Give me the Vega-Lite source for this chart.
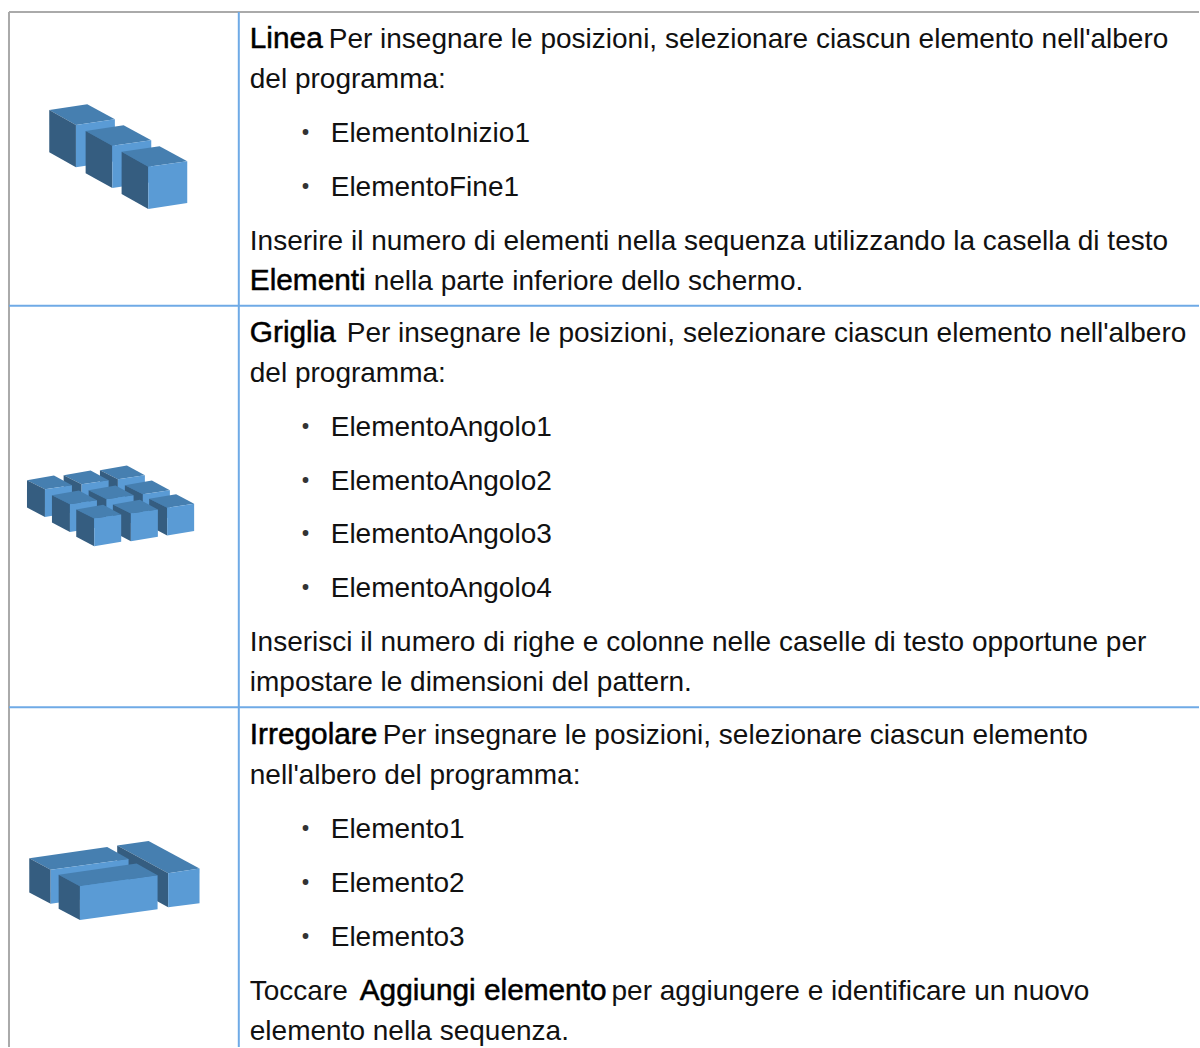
{"$schema":"https://vega.github.io/schema/vega-lite/v6.json","autosize":{"type":"fit","contains":"padding"},"width":1200,"height":1048,"padding":0,"background":"#ffffff","view":{"stroke":null},
"encoding":{"x":{"field":"x","type":"quantitative","axis":null,"scale":{"domain":[0,1200],"nice":false,"zero":false}},"y":{"field":"y","type":"quantitative","axis":null,"scale":{"domain":[1048,0],"nice":false,"zero":false}}},
"layer":[
{"data":{"values":[
{"k":"grey","x":9,"y":12,"x2":1200,"y2":12},{"k":"grey","x":9,"y":12,"x2":9,"y2":1048},{"k":"blue","x":239,"y":12,"x2":239,"y2":1048},{"k":"blue","x":9,"y":306,"x2":1200,"y2":306},{"k":"blue","x":9,"y":708,"x2":1200,"y2":708}]},
"mark":{"type":"rule","strokeWidth":2},"encoding":{"x2":{"field":"x2"},"y2":{"field":"y2"},"stroke":{"field":"k","type":"nominal","legend":null,"scale":{"domain":["grey","blue"],"range":["#aaaaaa","#6faae6"]}}}},
{"data":{"values":[
{"p":"a1t","f":"t","x":[49.3,87.3,115,76],"y":[110,104.3,119.3,125]},{"p":"a1l","f":"l","x":[49.3,76,76,49.3],"y":[110,125,167.3,152.3]},{"p":"a1f","f":"f","x":[76,115,115,76],"y":[125,119.3,161.3,167.3]},
{"p":"a2t","f":"t","x":[85.7,123.7,151.4,112.4],"y":[131,125.3,140.3,146]},{"p":"a2l","f":"l","x":[85.7,112.4,112.4,85.7],"y":[131,146,188.3,173.3]},{"p":"a2f","f":"f","x":[112.4,151.4,151.4,112.4],"y":[146,140.3,182.3,188.3]},
{"p":"a3t","f":"t","x":[121.7,159.7,187.4,148.4],"y":[152,146.3,161.3,167]},{"p":"a3l","f":"l","x":[121.7,148.4,148.4,121.7],"y":[152,167,209.3,194.3]},{"p":"a3f","f":"f","x":[148.4,187.4,187.4,148.4],"y":[167,161.3,203.3,209.3]},
{"p":"b1t","f":"t","x":[100,127,145,118],"y":[470.7,466,475.7,479.7]},{"p":"b1l","f":"l","x":[100,118,118,100],"y":[470.7,479.7,507.4,498]},{"p":"b1f","f":"f","x":[118,145,145,118],"y":[479.7,475.7,503,507.4]},
{"p":"b2t","f":"t","x":[63.7,90.7,108.7,81.7],"y":[475.7,471,480.7,484.7]},{"p":"b2l","f":"l","x":[63.7,81.7,81.7,63.7],"y":[475.7,484.7,512.4,503]},{"p":"b2f","f":"f","x":[81.7,108.7,108.7,81.7],"y":[484.7,480.7,508,512.4]},
{"p":"b3t","f":"t","x":[27,54,72,45],"y":[480.7,476,485.7,489.7]},{"p":"b3l","f":"l","x":[27,45,45,27],"y":[480.7,489.7,517.4,508]},{"p":"b3f","f":"f","x":[45,72,72,45],"y":[489.7,485.7,513,517.4]},
{"p":"b4t","f":"t","x":[125,152,170,143],"y":[485.7,481,490.7,494.7]},{"p":"b4l","f":"l","x":[125,143,143,125],"y":[485.7,494.7,522.4,513]},{"p":"b4f","f":"f","x":[143,170,170,143],"y":[494.7,490.7,518,522.4]},
{"p":"b5t","f":"t","x":[88.7,115.7,133.7,106.7],"y":[490.7,486,495.7,499.7]},{"p":"b5l","f":"l","x":[88.7,106.7,106.7,88.7],"y":[490.7,499.7,527.4,518]},{"p":"b5f","f":"f","x":[106.7,133.7,133.7,106.7],"y":[499.7,495.7,523,527.4]},
{"p":"b6t","f":"t","x":[52,79,97,70],"y":[495.7,491,500.7,504.7]},{"p":"b6l","f":"l","x":[52,70,70,52],"y":[495.7,504.7,532.4,523]},{"p":"b6f","f":"f","x":[70,97,97,70],"y":[504.7,500.7,528,532.4]},
{"p":"b7t","f":"t","x":[149.3,176.3,194.3,167.3],"y":[499.3,494.6,504.3,508.3]},{"p":"b7l","f":"l","x":[149.3,167.3,167.3,149.3],"y":[499.3,508.3,536,526.6]},{"p":"b7f","f":"f","x":[167.3,194.3,194.3,167.3],"y":[508.3,504.3,531.6,536]},
{"p":"b8t","f":"t","x":[113,140,158,131],"y":[505,500.3,510,514]},{"p":"b8l","f":"l","x":[113,131,131,113],"y":[505,514,541.7,532.3]},{"p":"b8f","f":"f","x":[131,158,158,131],"y":[514,510,537.3,541.7]},
{"p":"b9t","f":"t","x":[76.3,103.3,121.3,94.3],"y":[510,505.3,515,519]},{"p":"b9l","f":"l","x":[76.3,94.3,94.3,76.3],"y":[510,519,546.7,537.3]},{"p":"b9f","f":"f","x":[94.3,121.3,121.3,94.3],"y":[519,515,542.3,546.7]},
{"p":"c1t","f":"t","x":[117.3,148.7,199.7,168.3],"y":[846.3,841.7,869.3,874]},{"p":"c1l","f":"l","x":[117.3,168.3,168.3,117.3],"y":[846.3,874,908,880]},{"p":"c1f","f":"f","x":[168.3,199.7,199.7,168.3],"y":[874,869.3,904,908]},
{"p":"c2t","f":"t","x":[29.3,107.3,128.7,50.7],"y":[859,847.7,859.7,870.7]},{"p":"c2l","f":"l","x":[29.3,50.7,50.7,29.3],"y":[859,870.7,904.7,893.3]},{"p":"c2f","f":"f","x":[50.7,128.7,128.7,50.7],"y":[870.7,859.7,893.7,904.7]},
{"p":"c3t","f":"t","x":[58.7,136.7,157.7,80],"y":[875.7,864.3,876,887]},{"p":"c3l","f":"l","x":[58.7,80,80,58.7],"y":[875.7,887,921,909.7]},{"p":"c3f","f":"f","x":[80,157.7,157.7,80],"y":[887,876,910,921]}
]},
"transform":[{"window":[{"op":"row_number","as":"r"}]},{"flatten":["x","y"]},{"window":[{"op":"row_number","as":"i"}],"groupby":["r"]}],
"mark":{"type":"line","filled":true,"strokeWidth":0},"encoding":{"detail":{"field":"p"},"order":{"field":"i","type":"quantitative"},"fill":{"field":"f","type":"nominal","legend":null,"scale":{"domain":["t","l","f"],"range":["#467fb0","#355d80","#5a9bd5"]}}}},
{"data":{"values":[
{"x":329,"y":48,"t":"Per insegnare le posizioni, selezionare ciascun elemento nell'albero"},
{"x":250,"y":88,"t":"del programma:"},
{"x":331,"y":142,"t":"ElementoInizio1"},
{"x":331,"y":196,"t":"ElementoFine1"},
{"x":250,"y":250,"t":"Inserire il numero di elementi nella sequenza utilizzando la casella di testo"},
{"x":374,"y":290,"t":"nella parte inferiore dello schermo."},
{"x":347,"y":342,"t":"Per insegnare le posizioni, selezionare ciascun elemento nell'albero"},
{"x":250,"y":382,"t":"del programma:"},
{"x":331,"y":436,"t":"ElementoAngolo1"},
{"x":331,"y":490,"t":"ElementoAngolo2"},
{"x":331,"y":544,"t":"ElementoAngolo3"},
{"x":331,"y":598,"t":"ElementoAngolo4"},
{"x":250,"y":652,"t":"Inserisci il numero di righe e colonne nelle caselle di testo opportune per"},
{"x":250,"y":692,"t":"impostare le dimensioni del pattern."},
{"x":383,"y":745,"t":"Per insegnare le posizioni, selezionare ciascun elemento"},
{"x":250,"y":785,"t":"nell'albero del programma:"},
{"x":331,"y":839,"t":"Elemento1"},
{"x":331,"y":893,"t":"Elemento2"},
{"x":331,"y":947,"t":"Elemento3"},
{"x":250,"y":1001,"t":"Toccare"},
{"x":612,"y":1001,"t":"per aggiungere e identificare un nuovo"},
{"x":250,"y":1041,"t":"elemento nella sequenza."}
]},
"mark":{"type":"text","font":"Liberation Sans","fontSize":28,"align":"left","baseline":"alphabetic","color":"#111111"},"encoding":{"text":{"field":"t"}}},
{"data":{"values":[
{"x":301,"y":142,"t":"•"},{"x":301,"y":196,"t":"•"},{"x":301,"y":436,"t":"•"},{"x":301,"y":490,"t":"•"},{"x":301,"y":544,"t":"•"},{"x":301,"y":598,"t":"•"},{"x":301,"y":839,"t":"•"},{"x":301,"y":893,"t":"•"},{"x":301,"y":947,"t":"•"}
]},
"mark":{"type":"text","font":"Roboto","fontSize":28.3,"align":"left","baseline":"alphabetic","color":"#333333"},"encoding":{"text":{"field":"t"}}},
{"data":{"values":[
{"x":250,"y":48,"t":"Linea"},{"x":250,"y":290,"t":"Elementi"},{"x":250,"y":342,"t":"Griglia"},{"x":250,"y":745,"t":"Irregolare"},{"x":360,"y":1001,"t":"Aggiungi elemento"}
]},
"mark":{"type":"text","font":"Liberation Sans","fontSize":29.8,"align":"left","baseline":"alphabetic","color":"#000000","stroke":"#000000","strokeWidth":0.5},"encoding":{"text":{"field":"t"}}}
]}
